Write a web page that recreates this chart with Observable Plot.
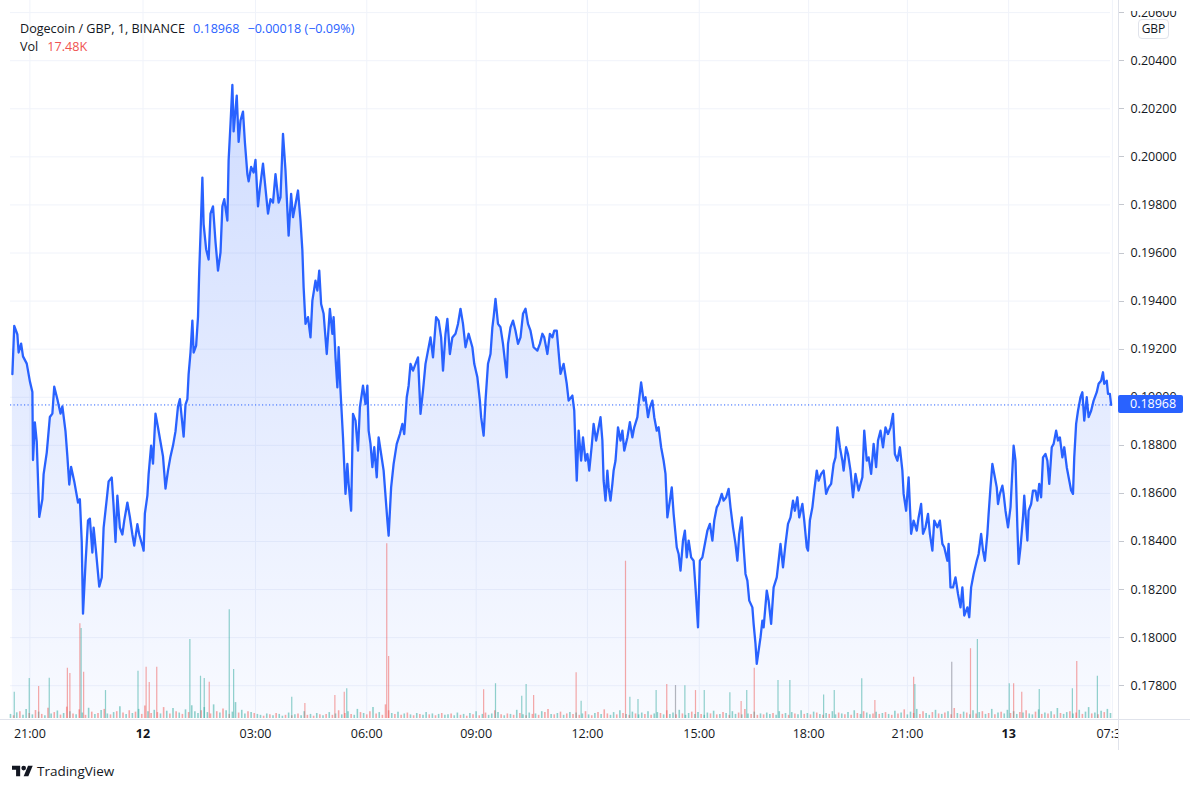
<!DOCTYPE html>
<html><head><meta charset="utf-8">
<script src="https://cdn.jsdelivr.net/npm/d3@7"></script>
<script src="https://cdn.jsdelivr.net/npm/@observablehq/plot@0.6"></script>
<style>
html,body{margin:0;padding:0;background:#fff;}
#wrap{position:relative;width:1200px;height:790px;overflow:hidden;font-family:"Open Sans",sans-serif;color:#131722;background:#fff;}
#wrap svg.layer{position:absolute;left:0;}
.ov{position:absolute;}
</style></head><body><div id="wrap"></div>
<script>
// ---- data ----
const symbolTitle = "Dogecoin / GBP, 1, BINANCE";
const lastPrice = 0.18968;
const changeText = "\u22120.00018 (\u22120.09%)";
const lastVolText = "17.48K";
const currency = "GBP";

// [bar index (1-minute bars), close price]
const priceSeries = [
[3,0.19096],[6,0.19297],[11,0.19261],[13,0.19186],[17,0.19223],[20,0.19170],[26,0.19140],[31,0.19066],[35,0.19022],[36,0.18739],
[39,0.18895],[42,0.18814],[46,0.18502],[51,0.18576],[53,0.18680],[58,0.18770],[63,0.18918],[67,0.18932],[70,0.19044],[75,0.18992],
[80,0.18932],[83,0.18962],[88,0.18858],[91,0.18754],[94,0.18637],[97,0.18710],[102,0.18650],[108,0.18562],[111,0.18576],[114,0.18398],
[116,0.18100],[120,0.18308],[124,0.18487],[127,0.18495],[131,0.18354],[133,0.18458],[137,0.18354],[142,0.18212],[146,0.18250],[149,0.18458],
[154,0.18576],[157,0.18650],[162,0.18666],[165,0.18546],[168,0.18398],[171,0.18591],[175,0.18458],[179,0.18429],[182,0.18487],[187,0.18562],
[191,0.18502],[195,0.18429],[198,0.18383],[203,0.18472],[206,0.18429],[211,0.18383],[213,0.18362],[215,0.18516],[219,0.18591],[221,0.18680],
[225,0.18799],[228,0.18724],[232,0.18932],[236,0.18874],[240,0.18814],[244,0.18754],[248,0.18620],[252,0.18695],[256,0.18754],[260,0.18799],
[264,0.18858],[268,0.18962],[271,0.18992],[275,0.18888],[277,0.18836],[280,0.18969],[283,0.18992],[285,0.19096],[288,0.19186],[291,0.19319],
[293,0.19186],[297,0.19215],[300,0.19334],[302,0.19527],[304,0.19677],[307,0.19914],[309,0.19720],[313,0.19616],[317,0.19573],[320,0.19764],
[324,0.19794],[328,0.19646],[332,0.19527],[336,0.19602],[339,0.19794],[342,0.19824],[347,0.19735],[349,0.19987],[352,0.20136],[355,0.20299],
[357,0.20106],[362,0.20255],[365,0.20062],[368,0.20151],[372,0.20188],[375,0.20062],[379,0.19928],[381,0.19898],[385,0.19958],[389,0.19935],
[392,0.19987],[396,0.19794],[399,0.19868],[404,0.19972],[408,0.19868],[412,0.19764],[416,0.19824],[420,0.19810],[424,0.19928],[429,0.19810],
[432,0.19832],[436,0.20096],[440,0.19943],[445,0.19672],[449,0.19846],[452,0.19749],[456,0.19804],[460,0.19860],[464,0.19735],[467,0.19610],
[469,0.19457],[472,0.19305],[476,0.19333],[480,0.19249],[483,0.19402],[488,0.19485],[491,0.19444],[494,0.19527],[497,0.19388],[501,0.19347],
[506,0.19180],[511,0.19368],[515,0.19264],[517,0.19333],[520,0.19166],[523,0.19041],[525,0.19208],[528,0.19028],[532,0.18833],[536,0.18598],
[539,0.18723],[541,0.18640],[545,0.18528],[548,0.18931],[552,0.18903],[556,0.18778],[559,0.18958],[564,0.19048],[568,0.18972],[571,0.19048],
[573,0.18861],[576,0.18806],[579,0.18709],[582,0.18792],[586,0.18667],[589,0.18833],[593,0.18764],[597,0.18695],[603,0.18487],[605,0.18424],
[609,0.18625],[613,0.18723],[618,0.18806],[623,0.18847],[627,0.18889],[630,0.18847],[634,0.19000],[637,0.19048],[640,0.19139],[644,0.19111],
[648,0.19139],[652,0.19166],[656,0.18931],[660,0.19028],[664,0.19139],[668,0.19194],[672,0.19249],[676,0.19166],[681,0.19333],[685,0.19319],
[689,0.19249],[692,0.19111],[696,0.19264],[699,0.19326],[703,0.19180],[707,0.19249],[712,0.19264],[716,0.19305],[720,0.19368],[724,0.19305],
[728,0.19208],[733,0.19264],[739,0.19208],[742,0.19139],[747,0.19083],[751,0.18986],[753,0.18917],[757,0.18840],[760,0.18986],[764,0.19139],
[768,0.19180],[771,0.19291],[773,0.19333],[776,0.19409],[780,0.19305],[784,0.19291],[788,0.19222],[791,0.19152],[794,0.19083],[796,0.19222],
[800,0.19291],[804,0.19319],[808,0.19277],[812,0.19222],[816,0.19249],[820,0.19347],[824,0.19368],[828,0.19305],[832,0.19277],[837,0.19208],
[843,0.19194],[847,0.19222],[851,0.19264],[854,0.19249],[859,0.19180],[863,0.19264],[867,0.19249],[870,0.19277],[874,0.19277],
[880,0.19097],[885,0.19139],[890,0.19056],[893,0.18986],[899,0.19007],[902,0.18944],[904,0.18792],[906,0.18653],[909,0.18861],[913,0.18736],
[916,0.18833],[920,0.18736],[923,0.18764],[926,0.18695],[930,0.18799],[933,0.18889],[937,0.18820],[940,0.18861],[944,0.18917],[947,0.18820],
[949,0.18653],[952,0.18570],[955,0.18695],[957,0.18625],[960,0.18570],[963,0.18640],[965,0.18695],[968,0.18736],[972,0.18875],[976,0.18820],
[979,0.18861],[982,0.18778],[987,0.18833],[991,0.18896],[995,0.18833],[998,0.18875],[1003,0.18917],[1005,0.18972],[1009,0.19062],[1013,0.18986],
[1016,0.19000],[1020,0.18917],[1023,0.18958],[1027,0.18986],[1030,0.18917],[1034,0.18861],[1037,0.18875],[1041,0.18792],[1045,0.18736],[1048,0.18681],
[1051,0.18500],[1055,0.18570],[1058,0.18625],[1061,0.18515],[1066,0.18376],[1069,0.18348],[1072,0.18279],[1076,0.18404],[1079,0.18445],[1082,0.18334],
[1085,0.18404],[1089,0.18334],[1093,0.18320],[1096,0.18209],[1100,0.18043],[1103,0.18320],[1107,0.18334],[1110,0.18376],[1115,0.18445],[1119,0.18473],
[1123,0.18404],[1126,0.18487],[1130,0.18542],[1133,0.18556],[1138,0.18598],[1141,0.18570],[1145,0.18584],[1149,0.18619],[1152,0.18542],[1156,0.18459],
[1160,0.18390],[1163,0.18320],[1166,0.18432],[1170,0.18500],[1173,0.18376],[1176,0.18265],[1179,0.18237],[1182,0.18154],[1187,0.18126],[1189,0.18057],
[1192,0.17974],[1194,0.17891],[1197,0.17946],[1200,0.18001],[1203,0.18071],[1205,0.18043],[1210,0.18196],[1213,0.18154],[1217,0.18057],[1221,0.18209],
[1226,0.18251],[1229,0.18320],[1232,0.18390],[1236,0.18292],[1240,0.18390],[1244,0.18473],[1248,0.18500],[1252,0.18570],[1255,0.18528],[1259,0.18584],
[1262,0.18500],[1267,0.18556],[1270,0.18487],[1274,0.18376],[1276,0.18362],[1279,0.18487],[1283,0.18542],[1286,0.18612],[1290,0.18695],[1293,0.18653],
[1297,0.18681],[1301,0.18695],[1305,0.18598],[1309,0.18625],[1313,0.18640],[1317,0.18723],[1320,0.18750],[1323,0.18875],[1327,0.18792],[1331,0.18736],
[1333,0.18695],[1337,0.18792],[1340,0.18764],
[1344,0.18695],[1348,0.18584],[1352,0.18681],[1357,0.18612],[1363,0.18667],[1366,0.18861],[1370,0.18736],[1373,0.18750],[1377,0.18681],[1381,0.18806],
[1385,0.18709],[1388,0.18820],[1392,0.18861],[1396,0.18792],[1400,0.18875],[1404,0.18847],[1408,0.18875],[1412,0.18931],[1415,0.18764],[1419,0.18736],
[1423,0.18792],[1427,0.18695],[1429,0.18598],[1433,0.18528],[1437,0.18667],[1441,0.18432],[1445,0.18487],[1450,0.18445],[1453,0.18500],[1457,0.18556],
[1460,0.18432],[1464,0.18459],[1468,0.18515],[1471,0.18432],[1475,0.18362],[1478,0.18487],[1483,0.18459],[1487,0.18487],[1491,0.18390],[1494,0.18376],
[1499,0.18320],[1501,0.18390],[1504,0.18209],[1508,0.18209],[1512,0.18251],[1516,0.18182],[1520,0.18126],[1523,0.18209],[1526,0.18092],[1531,0.18126],
[1534,0.18085],[1537,0.18209],[1541,0.18265],[1546,0.18320],[1549,0.18348],[1553,0.18432],[1556,0.18362],[1559,0.18320],[1563,0.18432],[1565,0.18515],
[1568,0.18625],[1571,0.18723],[1574,0.18681],[1578,0.18625],[1580,0.18556],[1583,0.18598],[1587,0.18632],[1589,0.18598],[1592,0.18528],[1596,0.18459],
[1600,0.18542],[1603,0.18695],[1605,0.18799],[1608,0.18736],[1611,0.18459],[1613,0.18307],[1616,0.18376],[1620,0.18500],[1622,0.18591],[1627,0.18404],
[1629,0.18528],[1633,0.18556],[1636,0.18612],[1640,0.18612],[1643,0.18570],[1646,0.18640],[1649,0.18584],[1652,0.18750],[1656,0.18764],[1659,0.18736],
[1662,0.18640],[1666,0.18792],[1669,0.18806],[1673,0.18861],[1676,0.18820],[1679,0.18833],[1683,0.18750],[1686,0.18792],[1690,0.18709],[1693,0.18667],
[1697,0.18612],[1700,0.18598],[1702,0.18750],[1705,0.18889],[1708,0.18944],[1712,0.19000],[1715,0.19021],[1718,0.18903],[1722,0.19000],[1725,0.18917],
[1729,0.18944],[1733,0.18986],[1738,0.19021],[1741,0.19056],[1745,0.19069],[1748,0.19104],[1750,0.19056],[1754,0.19069],[1756,0.19014],[1759,0.19014],
[1761,0.18968]
];

// price axis ticks
const priceTicks = [0.178,0.180,0.182,0.184,0.186,0.188,0.190,0.192,0.194,0.196,0.198,0.200,0.202,0.204,0.206];
// time axis ticks: [bar index, label]
const timeTicks = [[31,"21:00"],[212,"12"],[392,"03:00"],[570,"06:00"],[745,"09:00"],[923,"12:00"],[1102,"15:00"],[1277,"18:00"],[1435,"21:00"],[1597,"13"],[1763,"07:30"]];

// background volume (thousands), one value every 5 bars; negative = down bar (red), positive = up bar (teal)
const volBase = [
18,-12,25,-30,14,40,-22,16,-35,28,-18,12,-45,20,-26,33,-15,22,-50,30,
-20,16,-38,24,-14,45,-28,18,-22,35,-40,20,-16,26,-30,52,-24,18,-34,22,
-28,40,-18,-55,30,-22,36,-26,20,-48,32,-20,44,-30,24,-18,38,-26,56,30,
22,-34,48,26,-20,60,-30,24,-42,34,-18,28,70,-24,36,20,-30,26,-22,18,
14,-10,20,-16,12,-22,18,10,-14,24,-12,16,-20,12,30,-14,18,-10,22,-16,
12,-18,26,-14,20,-34,16,-22,30,-18,14,40,-26,22,-16,-30,48,-20,26,-14,
-60,-34,22,-18,28,-14,20,-24,16,-12,22,-18,14,26,-16,20,-12,18,-22,14,
16,-20,12,24,-14,18,-10,22,-16,30,-12,18,-24,14,20,-34,26,-16,12,-20,
18,-14,36,-22,16,-12,24,-18,20,-14,30,-26,-40,18,-16,22,-28,14,-20,26,
-18,24,-14,20,-30,16,-12,22,-26,18,-38,-20,14,26,-16,34,-22,18,-14,28,
-20,16,24,-18,30,-14,20,26,-22,16,-34,18,24,-16,36,-20,14,22,-28,18,
26,-18,14,24,-20,32,-16,18,-26,22,-14,30,18,-24,16,-40,20,-18,28,-14,
20,-16,24,18,-22,14,30,-18,22,-14,26,-20,16,34,-18,22,-16,28,-24,18,
-14,22,-18,30,16,-24,20,-16,26,-14,34,-22,18,-30,24,16,-20,28,-18,22,
-26,18,-14,32,-20,24,-38,16,28,-22,40,-18,-30,22,14,-26,36,-20,18,-24,
30,-16,-44,22,-18,28,-24,16,34,-20,26,-30,18,-22,40,-16,24,-28,20,36,
-22,30,18,-26,24,-34,20,16,-28,38,-18,24,-20,30,-16,44,-22,18,26,-30,
20,-24,36,-18,28,48,-20,24,-16,32,-26,40,22
];
// volume spikes: [bar index, volume (thousands), direction u=up d=down n=neutral]
const volSpikes = [
[6,116,"u"],[30,176,"u"],[45,141,"d"],[62,177,"u"],[91,221,"d"],[95,198,"d"],[111,417,"d"],[113,396,"u"],[117,204,"d"],[152,123,"u"],
[204,208,"u"],[217,226,"d"],[222,158,"d"],[234,226,"d"],[287,348,"u"],[304,186,"u"],[310,176,"u"],[318,160,"d"],[350,478,"u"],[357,216,"u"],
[450,94,"u"],[471,66,"d"],[519,101,"d"],[534,116,"d"],[538,131,"u"],[602,769,"d"],[605,273,"d"],[757,126,"d"],[776,153,"u"],[818,98,"u"],
[825,150,"u"],[837,101,"d"],[905,201,"d"],[913,76,"u"],[984,692,"d"],[991,94,"u"],[1004,84,"u"],[1033,123,"u"],[1050,150,"d"],[1064,145,"n"],
[1079,144,"u"],[1096,123,"d"],[1110,123,"u"],[1151,113,"u"],[1169,75,"d"],[1178,123,"u"],[1190,221,"d"],[1228,167,"u"],[1247,167,"u"],[1301,103,"u"],
[1318,123,"u"],[1362,175,"u"],[1383,79,"d"],[1445,182,"d"],[1447,150,"u"],[1506,248,"n"],[1536,307,"d"],[1547,348,"u"],[1598,153,"u"],[1605,153,"d"],
[1618,116,"d"],[1646,128,"u"],[1699,131,"u"],[1706,251,"d"],[1739,186,"u"]
];

// ---- build ----
const data = priceSeries.map(([i, p]) => ({i, p}));
const baseBars = volBase.map((v, k) => ({i: k * 5, v: Math.abs(v), dir: v < 0 ? "d" : "u"}));
const spikeBars = volSpikes.map(([i, v, dir]) => ({i, v, dir}));
const volColor = {u: "rgba(38,166,154,0.5)", d: "rgba(239,83,80,0.5)", n: "rgba(120,123,134,0.55)"};
const yMin = 0.176637, yMax = 0.206504;
const xDomain = [0, 1760];
const FONT = '"Open Sans", sans-serif';
const wrap = document.getElementById("wrap");

const pricePlot = Plot.plot({
  width: 1200, height: 760,
  marginLeft: 10, marginRight: 90, marginTop: 0, marginBottom: 42,
  x: {domain: xDomain, axis: null},
  y: {domain: [yMin, yMax], axis: null},
  style: {background: "transparent", fontFamily: FONT, fontSize: "12.5px", color: "#131722", overflow: "visible"},
  marks: [
    Plot.ruleY(priceTicks, {y: d => d, stroke: "#f0f3fa", strokeWidth: 1}),
    Plot.ruleX(timeTicks, {x: d => d[0], stroke: "#f0f3fa", strokeWidth: 1}),
    Plot.areaY(data, {x: "i", y1: () => yMin, y2: "p", fill: "url(#tvArea)"}),
    Plot.ruleY([lastPrice], {y: d => d, stroke: "#2962ff", strokeWidth: 1, strokeDasharray: "1.2,2.3"}),
    Plot.lineY(data, {x: "i", y: "p", stroke: "#2962ff", strokeWidth: 2.3, strokeLinejoin: "round"}),
    Plot.text(priceTicks, {y: d => d, text: d => d.toFixed(5), frameAnchor: "right", dx: 20, textAnchor: "start", fill: "#131722", fontSize: 12.5}),
    Plot.text(timeTicks.filter(t => t[1].includes(":")), {x: d => d[0], text: d => d[1], frameAnchor: "bottom", dy: 19, fill: "#131722", fontSize: 12.5}),
    Plot.text(timeTicks.filter(t => !t[1].includes(":")), {x: d => d[0], text: d => d[1], frameAnchor: "bottom", dy: 19, fill: "#131722", fontSize: 12.5, fontWeight: "bold"})
  ]
});
pricePlot.classList.add("layer");
pricePlot.style.top = "0px";
const yS = pricePlot.scale("y");
const topY = yS.apply(d3.max(data, d => d.p));
const bottomY = yS.apply(yMin);
const defs = d3.select(pricePlot).insert("defs", ":first-child");
const grad = defs.append("linearGradient").attr("id", "tvArea").attr("gradientUnits", "userSpaceOnUse")
  .attr("x1", 0).attr("x2", 0).attr("y1", topY).attr("y2", bottomY);
grad.append("stop").attr("offset", 0).attr("stop-color", "rgb(41,98,255)").attr("stop-opacity", 0.22);
grad.append("stop").attr("offset", 1).attr("stop-color", "rgb(41,98,255)").attr("stop-opacity", 0.03);
wrap.appendChild(pricePlot);

const volH = 300;
const volPlot = Plot.plot({
  width: 1200, height: volH,
  marginLeft: 10, marginRight: 90, marginTop: 0, marginBottom: 0,
  x: {domain: xDomain, axis: null},
  y: {domain: [0, 1320], axis: null},
  color: {type: "identity"},
  style: {background: "transparent", overflow: "visible"},
  marks: [
    Plot.ruleX(baseBars, {x: "i", y1: 0, y2: "v", stroke: d => volColor[d.dir], strokeWidth: 1.6}),
    Plot.ruleX(spikeBars, {x: "i", y1: 0, y2: "v", stroke: d => volColor[d.dir], strokeWidth: 1.2})
  ]
});
volPlot.classList.add("layer");
volPlot.style.top = (bottomY - volH) + "px";
wrap.appendChild(volPlot);

// ---- chrome overlays ----
function div(style, html) {
  const e = document.createElement("div");
  e.className = "ov";
  e.style.cssText = style;
  if (html !== undefined) e.innerHTML = html;
  wrap.appendChild(e);
  return e;
}
// cover top of price scale and time-scale overflow
div("left:1119px;top:0;width:81px;height:11px;background:#fff;");
div(`left:1119px;top:${bottomY + 2}px;width:81px;height:45px;background:#fff;`);
// price scale border and tick marks
div("left:1118px;top:0;width:1px;height:750px;background:#e0e3eb;");
priceTicks.forEach(t => {
  const y = yS.apply(t);
  if (y > 12) div(`left:1119px;top:${Math.round(y)}px;width:5px;height:1px;background:#c4c7ce;`);
});
// time scale border
div(`left:0;top:${Math.round(bottomY) + 1}px;width:1190px;height:1px;background:#e0e3eb;`);
// currency badge
div(`left:1138px;top:19px;width:29px;height:18px;border:1px solid #e0e3eb;border-radius:4px;background:#fff;font:12px ${FONT};line-height:18px;text-align:center;color:#131722;`, currency);
// last price badge
const ly = yS.apply(lastPrice);
div(`left:1118px;top:${ly - 9}px;width:65px;height:18px;background:#2962ff;border-radius:2px;`);
div(`left:1130px;top:${ly - 9}px;height:18px;font:12.5px ${FONT};line-height:18px;color:#fff;`, lastPrice.toFixed(5));
// legend header
div(`left:20px;top:20px;font:12.6px ${FONT};line-height:18px;white-space:nowrap;color:#131722;`,
  `<div>${symbolTitle}<span style="color:#2962ff;margin-left:8px">${lastPrice.toFixed(5)}</span><span style="color:#2962ff;margin-left:8px">${changeText}</span></div>` +
  `<div>Vol<span style="color:#ef5350;margin-left:9px">${lastVolText}</span></div>`);
// TradingView footer
div(`left:12px;top:762px;height:18px;display:flex;align-items:center;font:13.5px ${FONT};color:#131722;white-space:nowrap;`,
  `<svg width="21" height="12" viewBox="0 4 36 18" style="margin-right:4px"><path d="M14 22H7V11H0V4h14v18z" fill="#131722"/><circle cx="20" cy="8" r="4" fill="#131722"/><path d="M28 22h-8l7.5-18h8L28 22z" fill="#131722"/></svg>TradingView`);
</script></body></html>
